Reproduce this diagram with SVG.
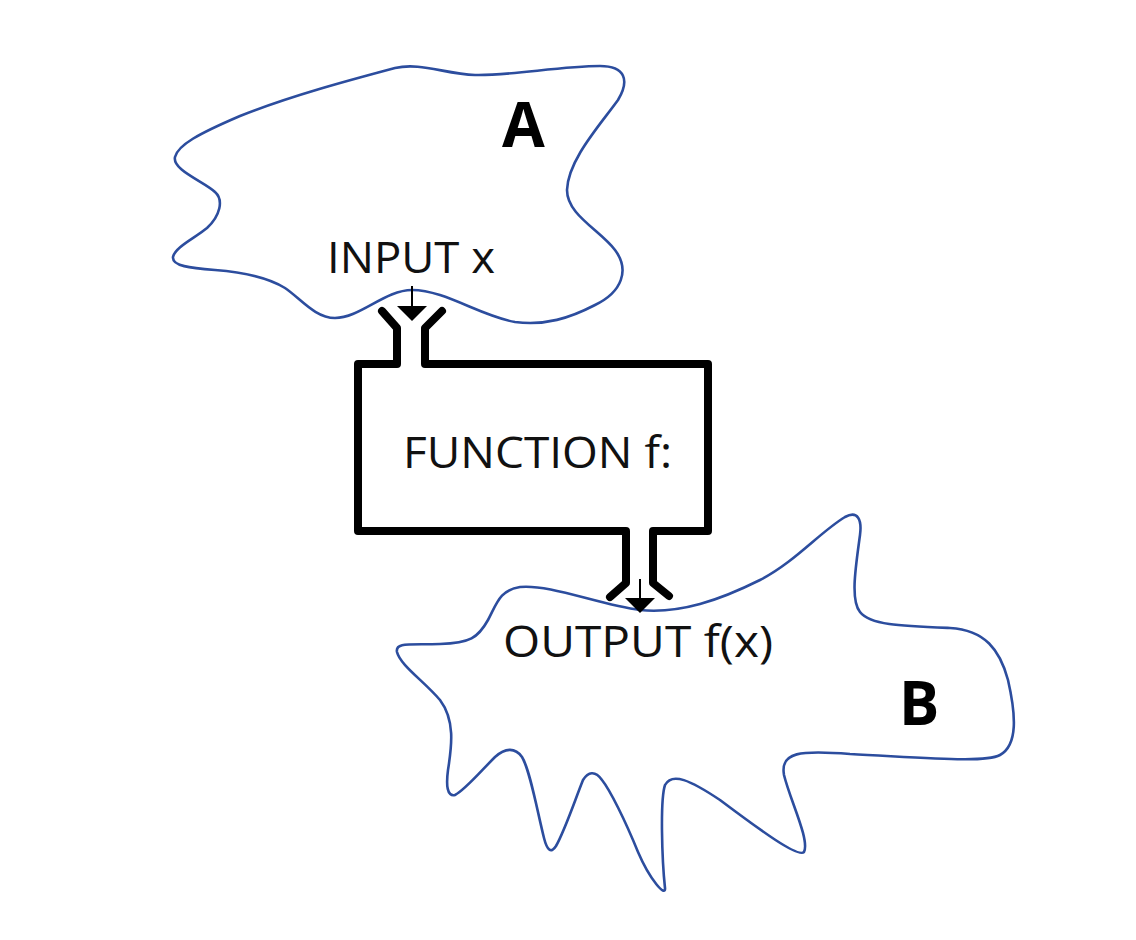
<svg xmlns="http://www.w3.org/2000/svg" width="1136" height="940" viewBox="0 0 1136 940">
<defs>
<style>
.set{fill:none;stroke:#2c4d9e;stroke-width:2.6;stroke-linejoin:round}
.box{fill:none;stroke:#000;stroke-width:8;stroke-linejoin:round;stroke-linecap:round}
.arr{stroke:#000;stroke-width:2}
.lbl{font-family:"Open Sans","DejaVu Sans",sans-serif;font-size:44px;fill:#111}
.big{font-family:"Open Sans","DejaVu Sans",sans-serif;font-weight:bold;font-size:62px;fill:#000}
</style>
</defs>
<rect width="1136" height="940" fill="#ffffff"/>
<g id="setA">
<path class="set" d="M175,157 C178,145 198,134 240,116 C290,96 350,80 395,68 C420,62 445,74 475,75 C510,76 560,66 600,66 C625,66 630,80 618,100 C600,125 568,160 567,190 C567,215 600,230 615,250 C630,270 622,292 595,305 C570,318 545,326 515,322 C480,316 445,290 412,290 C385,290 360,318 335,318 C315,318 300,298 285,288 C265,276 240,272 215,270 C190,268 172,266 173,257 C175,247 195,238 207,228 C220,216 224,200 215,192 C205,182 172,170 175,157 Z"/>
<text class="big" x="502" y="147">A</text>
<text class="lbl" x="327" y="273" textLength="168" lengthAdjust="spacingAndGlyphs">INPUT x</text>
</g>
<g id="setB">
<path class="set" d="M397,652 C395,642 410,645 440,644 C470,643 478,638 488,620 C497,603 500,590 520,587 C550,584 600,605 640,610 C680,614 720,600 760,580 C795,562 820,532 845,517 C858,510 862,520 860,535 C856,565 850,600 860,612 C870,625 900,626 950,628 C985,630 1000,650 1008,680 C1016,715 1018,745 1000,755 C985,763 930,758 850,754 C800,750 780,752 784,775 C790,800 810,840 804,852 C798,858 760,830 720,800 C690,780 672,772 665,785 C660,800 662,860 665,888 C666,898 650,880 638,852 C625,820 610,790 602,780 C595,770 588,772 583,780 C575,800 565,830 556,846 C551,854 547,850 544,838 C537,810 530,770 522,757 C515,747 505,748 495,757 C480,772 465,790 455,795 C447,797 446,785 448,770 C452,745 455,720 440,700 C425,682 400,665 397,652 Z"/>
<text class="big" x="899" y="725" style="font-size:60px">B</text>
<text class="lbl" x="503" y="657" textLength="270" lengthAdjust="spacingAndGlyphs">OUTPUT f(x)</text>
</g>
<g id="function">
<path class="box" d="M382,311 L397,328 L397,364 L358,364 L358,531 L626,531 L626,583 L610,597"/>
<path class="box" d="M442,311 L425,328 L425,364 L708,364 L708,531 L653,531 L653,583 L669,596"/>
<text class="lbl" x="403" y="468" textLength="269" lengthAdjust="spacingAndGlyphs">FUNCTION f:</text>
</g>
<g id="connectors">
<line class="arr" x1="412" y1="286" x2="412" y2="307"/>
<polygon points="397,306 427,306 412,321" fill="#000"/>
<line class="arr" x1="640" y1="579" x2="640" y2="599"/>
<polygon points="625,598 655,598 640,613" fill="#000"/>
</g>
</svg>
